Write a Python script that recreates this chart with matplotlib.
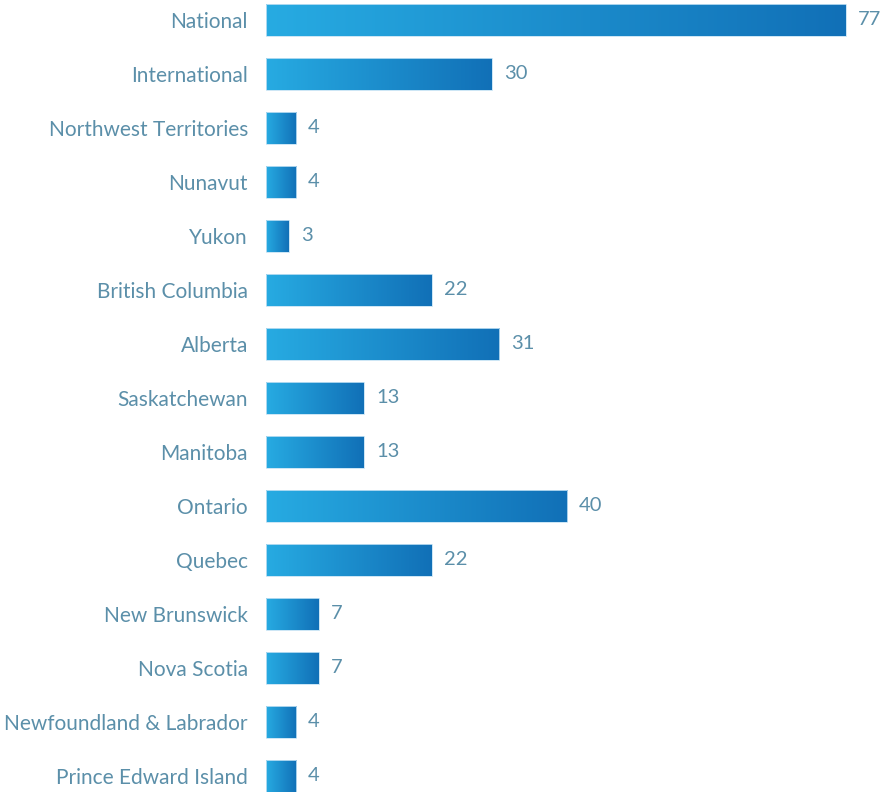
import numpy as np
import matplotlib.pyplot as plt
from matplotlib.colors import LinearSegmentedColormap

# Projects by region
regions = ['National', 'International', 'Northwest Territories', 'Nunavut', 'Yukon',
           'British Columbia', 'Alberta', 'Saskatchewan', 'Manitoba', 'Ontario',
           'Quebec', 'New Brunswick', 'Nova Scotia', 'Newfoundland & Labrador',
           'Prince Edward Island']
counts = [77, 30, 4, 4, 3, 22, 31, 13, 13, 40, 22, 7, 7, 4, 4]

text_color = '#5b8fa9'
cmap = LinearSegmentedColormap.from_list('bar_blue', ['#27abe2', '#1170b7'])
grad = np.tile(np.linspace(0, 1, 512), (4, 1))

fig = plt.figure(figsize=(8.8, 7.92), dpi=100)
ax = fig.add_axes([266 / 880, 0, 1 - 266 / 880, 1])

bar_h = 0.6
y = np.arange(len(regions))
bars = ax.barh(y, counts, height=bar_h, color='none', edgecolor='#c4e2f4',
               linewidth=0.6, zorder=3)
for bar, val in zip(bars, counts):
    x0, y0, w, h = bar.get_x(), bar.get_y(), bar.get_width(), bar.get_height()
    # gradient image a bit taller than the bar, clipped to the bar shape
    im = ax.imshow(grad, cmap=cmap, aspect='auto', interpolation='bilinear',
                   extent=(x0, x0 + w, y0 - 0.1, y0 + h + 0.1), zorder=2)
    im.set_clip_path(bar)
    ax.text(val + 1.6, y0 + h / 2, str(val), va='center', ha='left',
            fontsize=14.5, color=text_color, family='Lato')

ax.set_xlim(0, 614 / 7.53)
ax.set_ylim(14 + 0.3, -0.37)
ax.set_yticks(y)
ax.set_yticklabels(regions, fontsize=15, color=text_color, family='Lato')
ax.tick_params(axis='y', length=0, pad=13)
ax.set_xticks([])
for s in ax.spines.values():
    s.set_visible(False)
ax.patch.set_alpha(0)

fig.savefig('out.png', dpi=100)
